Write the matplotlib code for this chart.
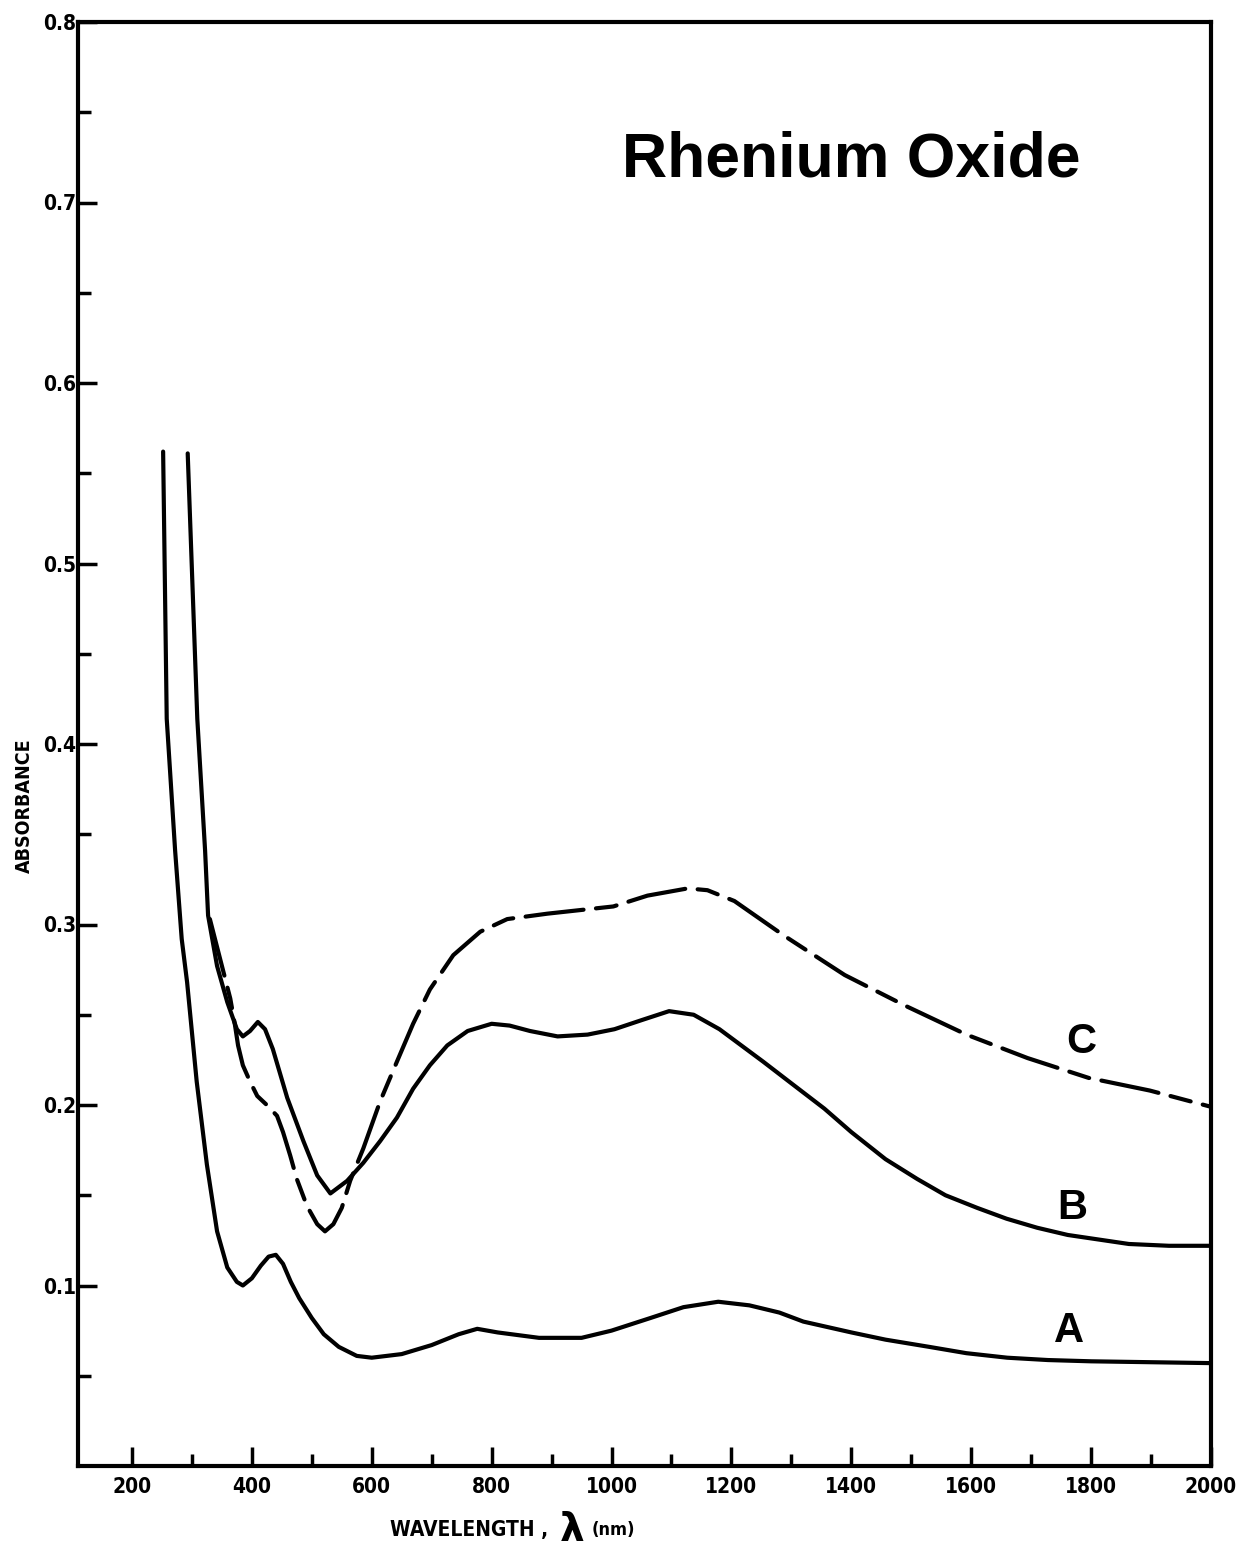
import matplotlib
matplotlib.use("Agg")
import matplotlib.pyplot as plt

# wavelength (nm) / absorbance
a_nm = [252, 258, 272, 283, 292, 308, 325, 342, 359, 375, 385, 400, 415, 428, 440, 452,
        465, 479, 500, 520, 545, 575, 600, 650, 700, 745, 776, 810, 879, 950, 1000, 1065,
        1120, 1178, 1230, 1280, 1320, 1400, 1457, 1530, 1592, 1660, 1728, 1800, 1900, 2000]
a_abs = [0.562, 0.414, 0.341, 0.292, 0.268, 0.213, 0.167, 0.130, 0.110, 0.102, 0.100, 0.104,
         0.111, 0.116, 0.117, 0.112, 0.102, 0.093, 0.082, 0.073, 0.066, 0.061, 0.060, 0.062,
         0.067, 0.073, 0.076, 0.074, 0.071, 0.071, 0.075, 0.082, 0.088, 0.091, 0.089, 0.085,
         0.080, 0.074, 0.070, 0.066, 0.0625, 0.060, 0.0587, 0.058, 0.0575, 0.057]

b_nm = [293, 309, 322, 327, 342, 359, 375, 385, 397, 410, 422, 435, 459, 486, 509, 531,
        559, 586, 614, 642, 669, 697, 726, 760, 800, 830, 864, 910, 960, 1005, 1050, 1096,
        1137, 1180, 1253, 1300, 1355, 1400, 1457, 1510, 1557, 1610, 1659, 1710, 1761, 1863,
        1930, 2000]
b_abs = [0.561, 0.414, 0.341, 0.305, 0.277, 0.257, 0.242, 0.238, 0.241, 0.246, 0.242, 0.231,
         0.204, 0.180, 0.161, 0.151, 0.158, 0.168, 0.180, 0.193, 0.209, 0.222, 0.233, 0.241,
         0.245, 0.244, 0.241, 0.238, 0.239, 0.242, 0.247, 0.252, 0.250, 0.242, 0.224, 0.212,
         0.198, 0.185, 0.170, 0.159, 0.150, 0.143, 0.137, 0.132, 0.128, 0.123, 0.122, 0.122]

c_nm = [330, 347, 364, 372, 377, 385, 397, 409, 425, 442, 452, 464, 475, 492, 509, 522,
        536, 550, 564, 586, 614, 642, 669, 697, 736, 781, 826, 893, 948, 1003, 1060, 1127,
        1160, 1205, 1287, 1389, 1490, 1592, 1694, 1796, 1898, 2000]
c_abs = [0.303, 0.281, 0.259, 0.244, 0.233, 0.222, 0.213, 0.205, 0.200, 0.194, 0.185, 0.172,
         0.159, 0.144, 0.134, 0.130, 0.134, 0.143, 0.158, 0.176, 0.202, 0.224, 0.245, 0.264,
         0.283, 0.296, 0.303, 0.306, 0.308, 0.310, 0.316, 0.320, 0.319, 0.313, 0.294, 0.272,
         0.255, 0.239, 0.226, 0.215, 0.208, 0.199]

curve_labels = ["A", "B", "C"]
label_pos = [(1763, 0.075), (1769, 0.143), (1783, 0.235)]

x_ticks = list(range(200, 2001, 200))
y_ticks = [0.1, 0.2, 0.3, 0.4, 0.5, 0.6, 0.7, 0.8]

cond = dict(family=["DejaVu Sans"], fontstretch="condensed", fontweight="bold")

fig = plt.figure(figsize=(12.37, 15.53), dpi=100)
ax = fig.add_axes([78 / 1237, 1 - 1466 / 1553, 1133 / 1237, 1444 / 1553])

line_kw = dict(color="black", lw=3, solid_joinstyle="round", dash_joinstyle="round",
               solid_capstyle="round", dash_capstyle="round")
ax.plot(a_nm, a_abs, **line_kw)
ax.plot(b_nm, b_abs, **line_kw)
ax.plot(c_nm, c_abs, dashes=(14, 3, 5, 3), **line_kw)

for lab, (xx, yy) in zip(curve_labels, label_pos):
    ax.text(xx, yy, lab, fontsize=30, fontweight="bold", family="Liberation Sans",
            ha="center", va="center")

fig.text(1080 / 1237, 1 - 160 / 1553, "Rhenium Oxide", fontsize=45, fontweight="bold",
         family="Liberation Sans", ha="right", va="center")

ax.set_xlim(110, 2000)
ax.set_ylim(0, 0.8)
ax.set_xticks(x_ticks)
ax.set_xticklabels([str(v) for v in x_ticks])
ax.set_xticks(range(300, 1901, 200), minor=True)
ax.set_yticks(y_ticks)
ax.set_yticklabels([f"{v:.1f}" for v in y_ticks])
ax.set_yticks([0.05, 0.15, 0.25, 0.35, 0.45, 0.55, 0.65, 0.75], minor=True)

ax.tick_params(which="major", direction="in", length=14, width=2.5)
ax.tick_params(which="minor", direction="in", length=9, width=2.5)
ax.tick_params(axis="x", pad=8)
ax.tick_params(axis="y", pad=1)
for lbl in ax.get_xticklabels() + ax.get_yticklabels():
    lbl.set_family(["DejaVu Sans"])
    lbl.set_fontstretch("condensed")
    lbl.set_fontweight("bold")
    lbl.set_fontsize(15)

for sp in ax.spines.values():
    sp.set_linewidth(3)

fig.text(24 / 1237, 1 - 806 / 1553, "ABSORBANCE", rotation=90, fontsize=14,
         ha="center", va="center", **cond)

y_lab = 1 - 1530 / 1553
fig.text(548 / 1237, y_lab, "WAVELENGTH ,", fontsize=15, ha="right", va="center", **cond)
fig.text(572 / 1237, y_lab, "λ", family=["DejaVu Sans"], fontweight="bold",
         fontsize=28, ha="center", va="center")
fig.text(592 / 1237, y_lab, "(nm)", fontsize=13, ha="left", va="center", **cond)

fig.savefig("out.png", dpi=100, facecolor="white")
